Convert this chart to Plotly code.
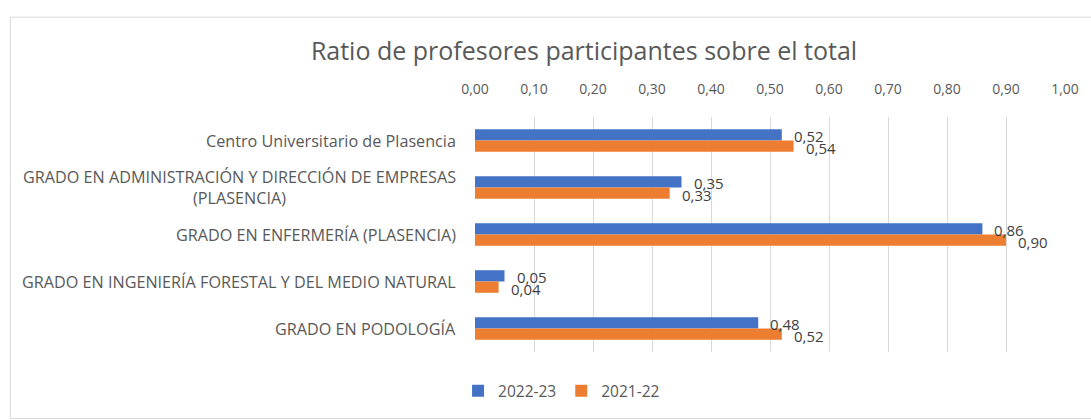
import plotly.graph_objects as go

# Chart data
categories = [
    "Centro Universitario de Plasencia",
    "GRADO EN ADMINISTRACIÓN Y DIRECCIÓN DE EMPRESAS<br>(PLASENCIA)",
    "GRADO EN ENFERMERÍA (PLASENCIA)",
    "GRADO EN INGENIERÍA FORESTAL Y DEL MEDIO NATURAL",
    "GRADO EN PODOLOGÍA",
]
series_names = ["2022-23", "2021-22"]
values_2022_23 = [0.52, 0.35, 0.86, 0.05, 0.48]
values_2021_22 = [0.54, 0.33, 0.90, 0.04, 0.52]
tick_values = [0.0, 0.1, 0.2, 0.3, 0.4, 0.5, 0.6, 0.7, 0.8, 0.9, 1.0]

colors = ["#4472C4", "#ED7D31"]
text_color = "#595959"
font_family = "Open Sans, Noto Sans, sans-serif"

W, H = 1091, 420
L, R, T, B = 475, 23, 117, 63
plot_w = W - L - R
plot_h = H - T - B

fig = go.Figure()
series = [values_2022_23, values_2021_22]
for name, vals, col in zip(series_names, series, colors):
    fig.add_trace(go.Bar(
        name=name,
        y=categories,
        x=vals,
        orientation="h",
        marker=dict(color=col, line=dict(width=0)),
    ))

# value labels beside the bar ends
for vals, shift in zip(series, [-5, 7]):
    for cat, v in zip(categories, vals):
        fig.add_annotation(
            x=v, y=cat, xref="x", yref="y",
            text=f"{v:.2f}".replace(".", ","),
            showarrow=False, xanchor="left", yanchor="middle",
            xshift=10, yshift=-shift,
            font=dict(family=font_family, size=15, color="#404040"),
        )

# category labels, centred when wrapped
for cat in categories:
    fig.add_annotation(
        x=0, y=cat, xref="paper", yref="y",
        text=cat, showarrow=False, xanchor="right", yanchor="middle",
        align="center", xshift=-17,
        font=dict(family=font_family, size=16.2, color=text_color),
    )

# outer chart frame
fig.add_shape(
    type="rect", xref="paper", yref="paper",
    x0=(8 - L) / plot_w, x1=(W + 5 - L) / plot_w,
    y0=(H - B - (H + 5)) / plot_h, y1=1 + (T - 15) / plot_h,
    line=dict(color="#D9D9D9", width=1), fillcolor="rgba(0,0,0,0)",
    layer="below",
)

fig.update_layout(
    width=W, height=H,
    margin=dict(l=L, r=R, t=T, b=B),
    paper_bgcolor="white", plot_bgcolor="white",
    separators=",.",
    barmode="group",
    bargap=0.52, bargroupgap=0,
    font=dict(family=font_family, color=text_color),
    title=dict(
        text="Ratio de profesores participantes sobre el total",
        x=584 / W, xanchor="center",
        y=1 - 51 / H, yanchor="middle", yref="container",
        font=dict(family=font_family, size=25, color=text_color),
    ),
    xaxis=dict(
        side="top", range=[0, 1.0], tickvals=tick_values, tickformat=".2f",
        showgrid=True, gridcolor="#D9D9D9", gridwidth=1,
        zeroline=False, showline=False,
        ticks="", ticklabelstandoff=19,
        tickfont=dict(family=font_family, size=14, color=text_color),
    ),
    yaxis=dict(
        autorange="reversed", showticklabels=False, showgrid=False,
        zeroline=False, showline=False, ticks="",
    ),
    legend=dict(
        orientation="h", x=(562 - L) / plot_w, xanchor="center",
        y=-(397 - (H - B)) / plot_h, yanchor="middle",
        font=dict(family=font_family, size=15.5, color=text_color),
        itemwidth=30, traceorder="normal",
    ),
    showlegend=True,
)

fig.write_html("out.html")
